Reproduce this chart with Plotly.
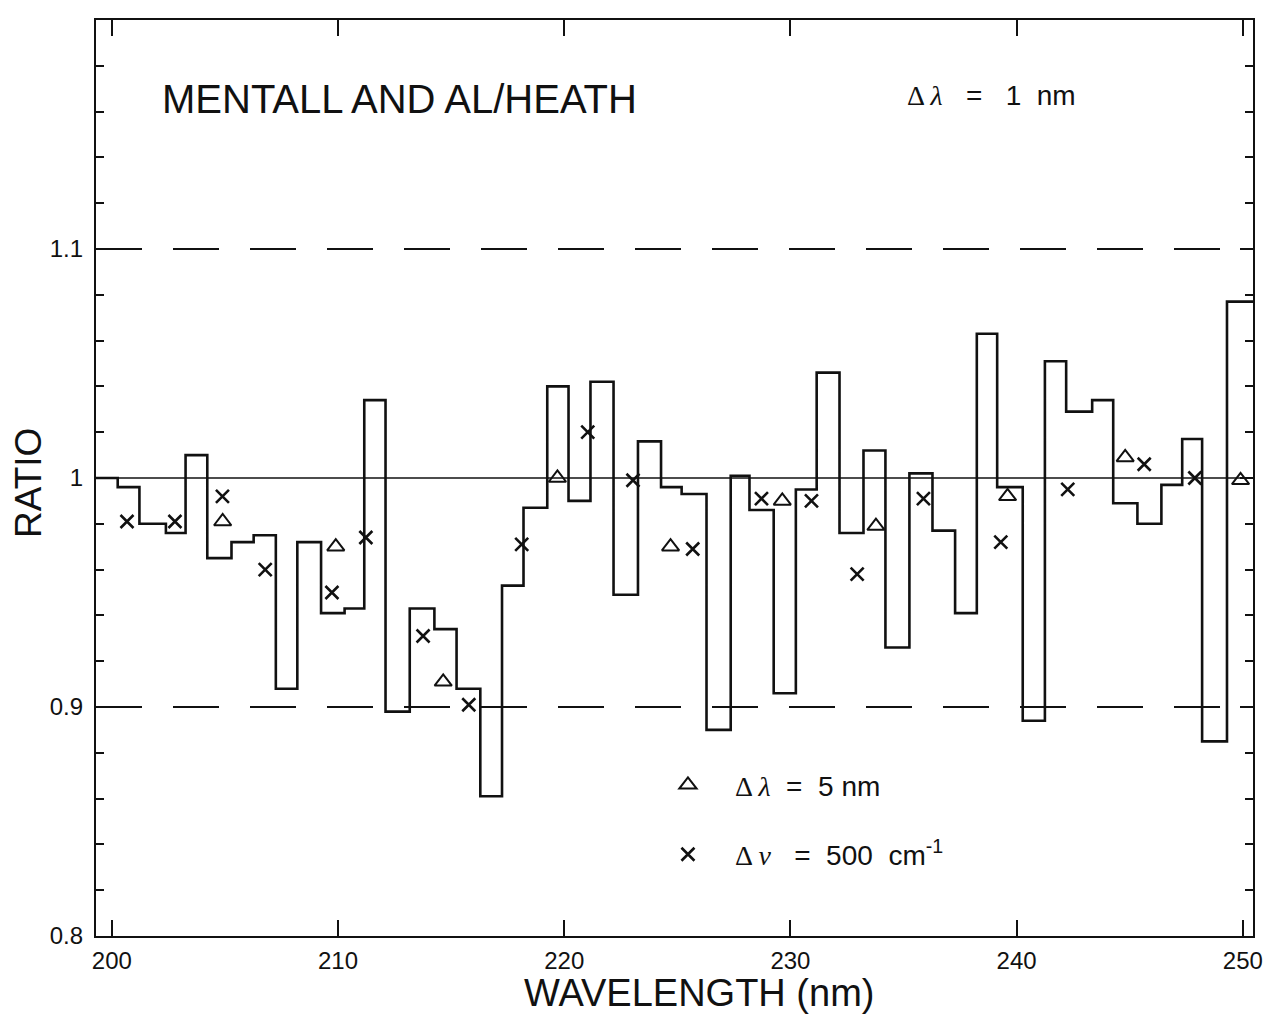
import plotly.graph_objects as go

# 1 nm binned ratio (step histogram): bin edges in nm and the ratio in each bin
bin_edges = [199.3, 200.26, 201.22, 202.39, 203.26, 204.22, 205.29, 206.27, 207.25, 208.2,
             209.25, 210.29, 211.16, 212.1, 213.17, 214.26, 215.24, 216.29, 217.25, 218.2,
             219.25, 220.19, 221.16, 222.18, 223.26, 224.28, 225.19, 226.29, 227.36, 228.19,
             229.26, 230.24, 231.16, 232.17, 233.23, 234.2, 235.26, 236.28, 237.28, 238.24,
             239.14, 240.27, 241.25, 242.19, 243.34, 244.27, 245.34, 246.4, 247.32, 248.2,
             249.3, 250.45]
bin_ratio = [1.000, 0.996, 0.980, 0.976, 1.010, 0.965, 0.972, 0.975, 0.908, 0.972,
             0.941, 0.943, 1.034, 0.898, 0.943, 0.934, 0.908, 0.861, 0.953, 0.987,
             1.040, 0.990, 1.042, 0.949, 1.016, 0.996, 0.993, 0.890, 1.001, 0.986,
             0.906, 0.995, 1.046, 0.976, 1.012, 0.926, 1.002, 0.977, 0.941, 1.063,
             0.996, 0.894, 1.051, 1.029, 1.034, 0.989, 0.980, 0.997, 1.017, 0.885,
             1.077]

# 5 nm averages
tri_wl = [204.9, 209.9, 214.65, 219.7, 224.7, 229.64, 233.78, 239.6, 244.8, 249.9]
tri_ratio = [0.981, 0.970, 0.911, 1.000, 0.970, 0.990, 0.979, 0.992, 1.009, 0.999]

# 500 cm-1 averages
cross_wl = [200.67, 202.79, 204.89, 206.78, 209.73, 211.23, 213.76, 215.78, 218.12, 221.04,
            223.04, 225.68, 228.72, 230.93, 232.95, 235.88, 239.3, 242.26, 245.64, 247.88]
cross_ratio = [0.981, 0.981, 0.992, 0.960, 0.950, 0.974, 0.931, 0.901, 0.971, 1.020,
               0.999, 0.969, 0.991, 0.990, 0.958, 0.991, 0.972, 0.995, 1.006, 1.000]

x_ticks = [200, 210, 220, 230, 240, 250]
y_ticks = [0.8, 0.9, 1.0, 1.1]
y_ticktext = ["0.8", "0.9", "1", "1.1"]
unity = 1.0
limits = [0.9, 1.1]
x_range = [199.3, 250.45]
y_range = [0.8, 1.2]

INK = "#111111"
SANS = "Liberation Sans, Arial, Helvetica, sans-serif"
SERIF_SPAN = "<span style=\"font-family:'Liberation Serif', 'DejaVu Serif', serif\">"

fig = go.Figure()

# step curve
fig.add_trace(go.Scatter(
    x=bin_edges, y=bin_ratio + [bin_ratio[-1]],
    mode="lines", line=dict(color=INK, width=2.6, shape="hv"),
    showlegend=False, hoverinfo="skip",
))

fig.add_trace(go.Scatter(
    x=tri_wl, y=tri_ratio, mode="markers",
    marker=dict(symbol="triangle-up-open", size=15, color=INK, line=dict(width=2, color=INK)),
    name=SERIF_SPAN + "Δ <i>λ</i></span>  =  5 nm", legendgroup="a",
))

fig.add_trace(go.Scatter(
    x=cross_wl, y=cross_ratio, mode="markers",
    marker=dict(symbol="x-thin-open", size=13, color=INK, line=dict(width=2.6, color=INK)),
    name=SERIF_SPAN + "Δ <i>ν</i></span>   =  500  cm<sup>-1</sup>", legendgroup="b",
))

# reference lines
fig.add_shape(type="line", xref="x", yref="y", x0=x_range[0], x1=x_range[1],
              y0=unity, y1=unity, line=dict(color=INK, width=1.6))
for lim in limits:
    fig.add_shape(type="line", xref="x", yref="y", x0=x_range[0], x1=x_range[1],
                  y0=lim, y1=lim, line=dict(color=INK, width=1.8, dash="46px,31px"))

fig.update_xaxes(
    range=x_range, tickvals=x_ticks, ticktext=[str(v) for v in x_ticks],
    ticks="inside", ticklen=16, tickwidth=2, tickcolor=INK,
    showline=True, linewidth=2.4, linecolor=INK, mirror="ticks",
    showgrid=False, zeroline=False,
    tickfont=dict(family=SANS, size=24, color=INK), ticklabelstandoff=2,
)
fig.update_yaxes(
    range=y_range, tickvals=y_ticks, ticktext=y_ticktext,
    ticks="inside", ticklen=13, tickwidth=2, tickcolor=INK,
    minor=dict(dtick=0.02, tick0=0.8, ticks="inside", ticklen=8, tickwidth=2, tickcolor=INK),
    showline=True, linewidth=2.4, linecolor=INK, mirror="ticks",
    showgrid=False, zeroline=False,
    tickfont=dict(family=SANS, size=24, color=INK), ticklabelstandoff=6,
)

fig.update_layout(
    width=1280, height=1014,
    margin=dict(l=96, r=27, t=20, b=78),
    paper_bgcolor="white", plot_bgcolor="white",
    font=dict(family=SANS, color=INK),
    legend=dict(
        x=0.471, y=0.192, xanchor="left", yanchor="top",
        bgcolor="rgba(0,0,0,0)", borderwidth=0,
        font=dict(family=SANS, size=28, color=INK),
        itemwidth=84, tracegroupgap=30, traceorder="grouped",
    ),
    annotations=[
        dict(text="MENTALL AND AL/HEATH", xref="paper", yref="paper",
             x=0.0553, y=0.9143, xanchor="left", yanchor="middle", showarrow=False,
             font=dict(family=SANS, size=40, color=INK)),
        dict(text=SERIF_SPAN + "Δ <i>λ</i></span>   =   1  nm", xref="paper", yref="paper",
             x=0.699, y=0.918, xanchor="left", yanchor="middle", showarrow=False,
             font=dict(family=SANS, size=28, color=INK)),
        dict(text="WAVELENGTH (nm)", xref="paper", yref="paper",
             x=0.521, y=-0.0625, xanchor="center", yanchor="middle", showarrow=False,
             font=dict(family=SANS, size=38, color=INK)),
        dict(text="RATIO", xref="paper", yref="paper", textangle=-90,
             x=-0.0588, y=0.4945, xanchor="center", yanchor="middle", showarrow=False,
             font=dict(family=SANS, size=37, color=INK)),
    ],
)

fig.write_html("out.html")
